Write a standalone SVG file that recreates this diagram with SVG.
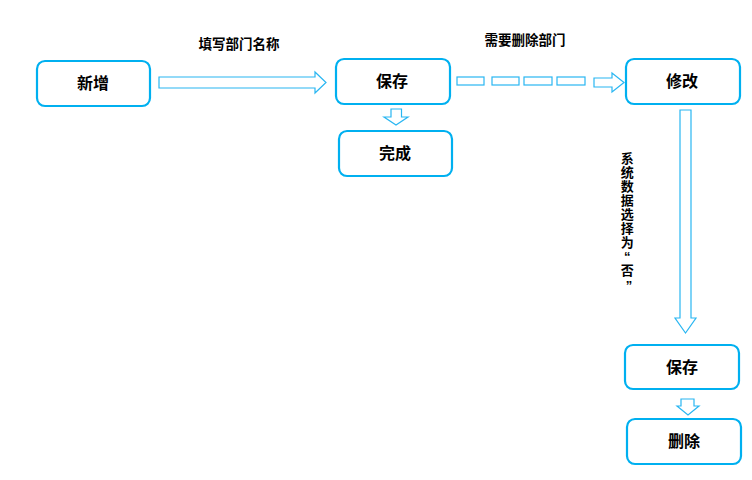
<svg xmlns="http://www.w3.org/2000/svg" width="752" height="480" viewBox="0 0 752 480">
<style>
.box{fill:#fff;stroke:#00b0f0;stroke-width:2.2}
.lbl{font-family:"Noto Sans CJK SC","Noto Sans",sans-serif;font-weight:bold;font-size:16px;fill:#000;text-anchor:middle;dominant-baseline:central}
.arr{fill:#fff;stroke:#29b6f2;stroke-width:1.2}
.cap{font-family:"Noto Sans CJK SC","Noto Sans",sans-serif;font-weight:bold;font-size:13.5px;fill:#000;text-anchor:middle;dominant-baseline:central}
.vc{font-family:"Liberation Sans","Noto Sans CJK SC",sans-serif;font-weight:bold;font-size:13px;fill:#000;text-anchor:middle;dominant-baseline:central}
</style>
<rect width="752" height="480" fill="#fff"/>
<g id="connectors">
<path class="arr" d="M159,77 H315 V72 L326,82.5 L315,93 V88 H159 Z"/>
<rect class="arr" x="457" y="77" width="27" height="8"/>
<rect class="arr" x="492" y="77" width="27" height="8"/>
<rect class="arr" x="524" y="77" width="28" height="8"/>
<rect class="arr" x="557" y="77" width="28" height="8"/>
<path class="arr" d="M594,78 H612 V73 L624,82.5 L612,92 V87 H594 Z"/>
<path class="arr" d="M391,109 H401.5 V117 H408 L396,125 L384,117 H391 Z"/>
<path class="arr" d="M680,110 H691 V318 H696 L685.5,333 L675,318 H680 Z"/>
<path class="arr" d="M681,399 H694 V406 H699 L688,415 L677,406 H681 Z"/>
<text class="cap" x="239" y="43">填写部门名称</text>
<text class="cap" x="525" y="39">需要删除部门</text>
<text class="vc" x="629">
<tspan x="629" y="158">系</tspan>
<tspan x="629" y="172">统</tspan>
<tspan x="629" y="186">数</tspan>
<tspan x="629" y="200">据</tspan>
<tspan x="629" y="214">选</tspan>
<tspan x="629" y="228">择</tspan>
<tspan x="629" y="242">为</tspan>
<tspan x="629" y="256">“</tspan>
<tspan x="629" y="270">否</tspan>
<tspan x="629" y="285">”</tspan>
</text>
</g>
<g id="n1"><rect class="box" x="37" y="61" width="113" height="45" rx="8"/><text class="lbl" x="93" y="82">新增</text></g>
<g id="n2"><rect class="box" x="336" y="59" width="114" height="45" rx="8"/><text class="lbl" x="392" y="80">保存</text></g>
<g id="n3"><rect class="box" x="339" y="131" width="113" height="45" rx="8"/><text class="lbl" x="395" y="152">完成</text></g>
<g id="n4"><rect class="box" x="626" y="59" width="114" height="45" rx="8"/><text class="lbl" x="682" y="80">修改</text></g>
<g id="n5"><rect class="box" x="625" y="345" width="114" height="44" rx="8"/><text class="lbl" x="682" y="366">保存</text></g>
<g id="n6"><rect class="box" x="627" y="419" width="114" height="45" rx="8"/><text class="lbl" x="684" y="440">删除</text></g>
</svg>
